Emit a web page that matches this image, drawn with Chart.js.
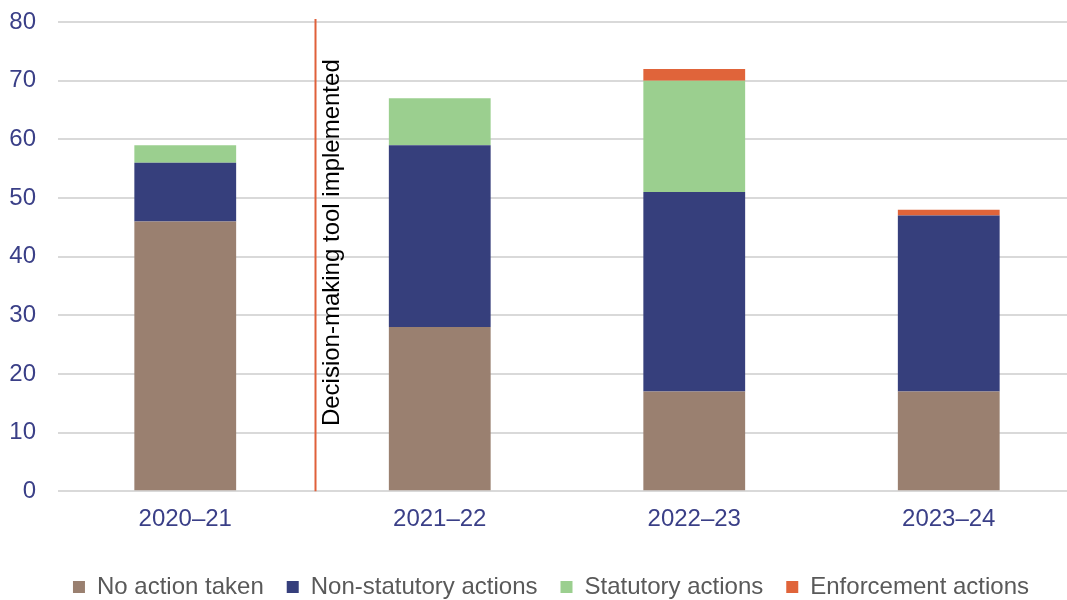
<!DOCTYPE html>
<html>
<head>
<meta charset="utf-8">
<script src="https://cdn.jsdelivr.net/npm/chart.js@4/dist/chart.umd.min.js"></script>
<style>
html,body{margin:0;padding:0;background:#fff;overflow:hidden;}
#wrap{width:1067px;height:600px;overflow:hidden;position:relative;}
canvas{position:absolute;left:0;top:0;}
</style>
</head>
<body>
<div id="wrap"><canvas id="c" width="1102" height="609" style="width:1102px;height:609px"></canvas></div>
<script>
const categories = ["2020–21", "2021–22", "2022–23", "2023–24"];
const noAction = [46, 28, 17, 17];
const nonStatutory = [10, 31, 34, 30];
const statutory = [3, 8, 19, 0];
const enforcement = [0, 0, 2, 1];
const seriesNames = ["No action taken", "Non-statutory actions", "Statutory actions", "Enforcement actions"];
const yTicks = [0, 10, 20, 30, 40, 50, 60, 70, 80];
const annotationText = "Decision-making tool implemented";

const FONT = '"Liberation Sans", Arial, sans-serif';

const markerPlugin = {
  id: 'marker',
  afterLayout(chart) {
    const lg = chart.legend;
    if (lg) { lg.left = lg.left + 26; lg.width = lg.right - lg.left; }
  },
  afterDatasetsDraw(chart) {
    const {ctx, scales: {x, y}} = chart;
    const px = Math.round(x.getPixelForValue(0.51)) + 0.5;
    ctx.save();
    ctx.strokeStyle = '#e0603a';
    ctx.lineWidth = 2;
    ctx.beginPath();
    ctx.moveTo(px, y.getPixelForValue(80) - 3);
    ctx.lineTo(px, y.getPixelForValue(0));
    ctx.stroke();
    ctx.translate(px + 17, y.getPixelForValue(11.1));
    ctx.rotate(-Math.PI / 2);
    ctx.fillStyle = '#000';
    ctx.font = '24px ' + FONT;
    ctx.textAlign = 'left';
    ctx.textBaseline = 'middle';
    ctx.fillText(annotationText, 0, 0);
    ctx.restore();
  }
};

new Chart(document.getElementById('c'), {
  type: 'bar',
  data: {
    labels: categories,
    datasets: [
      {label: seriesNames[0], data: noAction, backgroundColor: '#9a8070'},
      {label: seriesNames[1], data: nonStatutory, backgroundColor: '#363f7c'},
      {label: seriesNames[2], data: statutory, backgroundColor: '#9bcf8f'},
      {label: seriesNames[3], data: enforcement, backgroundColor: '#e0643a'}
    ]
  },
  options: {
    responsive: false,
    animation: false,
    devicePixelRatio: 1,
    layout: {padding: {top: 22, right: 26, left: 0, bottom: 0}},
    datasets: {bar: {barPercentage: 0.5, categoryPercentage: 0.8}},
    scales: {
      x: {
        stacked: true,
        grid: {display: false, drawTicks: false},
        border: {display: false},
        ticks: {color: '#3a3f87', font: {size: 24, family: FONT}, padding: 14},
        afterFit(scale) { scale.height += 4; }
      },
      y: {
        stacked: true,
        min: 0, max: 80,
        afterBuildTicks(axis) { axis.ticks = yTicks.map(v => ({value: v})); },
        afterFit(scale) { scale.width = 58; scale.paddingTop = 0; scale.paddingBottom = 0; },
        grid: {color: '#d9d9d9', lineWidth: 2, drawTicks: false},
        border: {display: false},
        ticks: {color: '#3a3f87', font: {size: 24, family: FONT}, padding: 22}
      }
    },
    plugins: {
      tooltip: {enabled: false},
      legend: {
        position: 'bottom',
        labels: {
          color: '#595959',
          font: {size: 24, family: FONT},
          boxWidth: 12, boxHeight: 12, padding: 23
        }
      }
    }
  },
  plugins: [markerPlugin]
});
</script>
</body>
</html>
